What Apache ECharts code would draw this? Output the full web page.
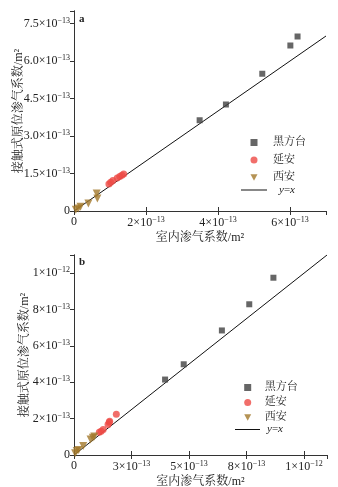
<!DOCTYPE html>
<html><head><meta charset="utf-8">
<script src="https://cdn.jsdelivr.net/npm/echarts@6/dist/echarts.min.js"></script>
<style>html,body{margin:0;padding:0;background:#fff}#c{width:338px;height:487px}</style>
</head><body><div id="c"></div>
<script>
// values in units of 1e-13 m^2
const heifangtaiA = [[3.49,3.63],[4.22,4.26],[5.23,5.49],[6.01,6.62],[6.21,6.98]];
const yananA = [[0.97,1.08],[1.02,1.15],[1.08,1.22],[1.2,1.32],[1.27,1.38],[1.33,1.43],[1.38,1.48]];
const xianA = [[0.05,0.05],[0.12,0.1],[0.18,0.17],[0.4,0.3],[0.63,0.7],[0.65,0.5]];
const lineA = [[0,0],[7,7]];
const heifangtaiB = [[3.96,4.15],[4.77,4.99],[6.43,6.85],[7.62,8.29],[8.67,9.75]];
const yananB = [[1.1,1.25],[1.18,1.3],[1.27,1.4],[1.48,1.68],[1.53,1.8],[1.55,1.85],[1.84,2.24]];
const xianB = [[0.05,0.1],[0.12,0.22],[0.2,0.28],[0.4,0.5],[0.72,0.85],[0.82,0.95],[0.88,1.02]];
const lineB = [[0,0],[11,11]];
const xTicksA = ['0','2|13','4|13','6|13'];
const yTicksA = ['0','1.5|13','3.0|13','4.5|13','6.0|13','7.5|13'];
const xTicksB = ['0','3|13','5|13','8|13','1|12'];
const yTicksB = ['0','2|13','4|13','6|13','8|13','1|12'];
const pointNames = ['黑方台','延安','西安'];
const lineName = 'y=x';

const SERIF = '"Liberation Serif","Noto Serif CJK SC","Noto Sans CJK SC",serif';
const rich = {
  b:{fontFamily:SERIF,fontSize:12,color:'#222'},
  s:{fontFamily:SERIF,fontSize:8,color:'#222',verticalAlign:'top',padding:[0,0,6,0]}
};
function fmt(list, interval){
  return function(v){
    const i = Math.round(v/interval);
    if(Math.abs(v-i*interval)>1e-6) return '';
    const t = list[i]; if(t===undefined) return '';
    if(t.indexOf('|')<0) return '{b|'+t+'}';
    const p = t.split('|');
    return '{b|'+p[0]+'×10}{s|−'+p[1]+'}';
  };
}
const axisLine = {show:true,lineStyle:{color:'#333',width:1}};
function xAx(gi,max,interval,labels){
  return [{gridIndex:gi,type:'value',min:0,max:max,interval:interval,axisLine:axisLine,
    axisTick:{inside:true,length:4,lineStyle:{color:'#333'}},splitLine:{show:false},
    axisLabel:{formatter:fmt(labels,interval),rich:rich,margin:5,showMaxLabel:false},
    name:'室内渗气系数/m²',nameLocation:'middle',nameGap:21,nameMoveOverlap:false,
    nameTextStyle:{fontFamily:SERIF,fontSize:12,color:'#222'}},
   {gridIndex:gi,type:'value',position:'top',min:0,max:max,interval:interval,axisLine:axisLine,
    axisTick:{inside:true,length:4,lineStyle:{color:'#333'}},splitLine:{show:false},axisLabel:{show:false}}];
}
function yAx(gi,max,interval,labels,gap){
  return [{gridIndex:gi,type:'value',min:0,max:max,interval:interval,axisLine:axisLine,
    axisTick:{inside:false,length:4,lineStyle:{color:'#333'}},splitLine:{show:false},
    axisLabel:{formatter:fmt(labels,interval),rich:rich,margin:4,showMaxLabel:false},
    name:'接触式原位渗气系数/m²',nameLocation:'middle',nameGap:gap,nameMoveOverlap:false,
    nameTextStyle:{fontFamily:SERIF,fontSize:12,color:'#222'}},
   {gridIndex:gi,type:'value',position:'right',min:0,max:max,interval:interval,axisLine:axisLine,
    axisTick:{inside:true,length:4,lineStyle:{color:'#333'}},splitLine:{show:false},axisLabel:{show:false}}];
}
const C1='#404040', C2='#ee4a45', C3='#a3782b';
function ser(xi,yi,hf,ya,xa,ln){
  return [
   {name:pointNames[0],type:'scatter',xAxisIndex:xi,yAxisIndex:yi,data:hf,symbol:'rect',symbolSize:6,itemStyle:{color:C1}},
   {name:pointNames[1],type:'scatter',xAxisIndex:xi,yAxisIndex:yi,data:ya,symbol:'circle',symbolSize:7,itemStyle:{color:C2}},
   {name:pointNames[2],type:'scatter',xAxisIndex:xi,yAxisIndex:yi,data:xa,symbol:'triangle',symbolRotate:180,symbolSize:8,itemStyle:{color:C3}},
   {name:lineName,type:'line',xAxisIndex:xi,yAxisIndex:yi,data:ln,showSymbol:false,symbol:'none',itemStyle:{color:'#111'},lineStyle:{color:'#111',width:1},z:1}
  ];
}
function legPts(left,top,pad,gap){
  return {left:left,top:top,padding:0,orient:'vertical',itemWidth:7,itemHeight:7,itemGap:gap,selectedMode:false,
    data:[{name:pointNames[0],icon:'rect'},{name:pointNames[1],icon:'circle'},{name:pointNames[2],icon:'path://M0,0L10,0L5,9Z'}],
    formatter:function(n){return '{n|'+n+'}';},
    textStyle:{rich:{n:{fontFamily:SERIF,fontSize:11,color:'#222',padding:[0,0,0,pad]}}}};
}
function legLine(left,top,w,pad){
  return {left:left,top:top,padding:0,orient:'vertical',itemWidth:w,itemHeight:1,selectedMode:false,
    data:[{name:lineName,icon:'rect'}],
    formatter:function(){return '{p|}{i|y}{n|=}{i|x}';},
    textStyle:{rich:{p:{width:pad},n:{fontFamily:SERIF,fontSize:11,color:'#222'},
      i:{fontFamily:SERIF,fontSize:11,fontStyle:'italic',color:'#222'}}}};
}
const chart = echarts.init(document.getElementById('c'));
chart.setOption({
  backgroundColor:'#fff',animation:false,
  title:[{text:'a',left:79,top:14,padding:0,textStyle:{fontFamily:SERIF,fontSize:11,fontWeight:'bold',color:'#222'}},
         {text:'b',left:79,top:257,padding:0,textStyle:{fontFamily:SERIF,fontSize:11,fontWeight:'bold',color:'#222'}}],
  grid:[{left:74,top:11,width:252,height:200,outerBoundsMode:'none',containLabel:false},
        {left:74,top:255,width:253,height:200,outerBoundsMode:'none',containLabel:false}],
  xAxis:[...xAx(0,7,2,xTicksA),...xAx(1,11,2.5,xTicksB)],
  yAxis:[...yAx(0,8,1.5,yTicksA,49),...yAx(1,11,2,yTicksB,43)],
  legend:[legPts(250.5,137,10.5,6.5),legLine(241,184,26,7),legPts(244.2,382,8.5,4),legLine(235,423.5,25,2)],
  series:[...ser(0,0,heifangtaiA,yananA,xianA,lineA),...ser(2,2,heifangtaiB,yananB,xianB,lineB)]
});
</script></body></html>
